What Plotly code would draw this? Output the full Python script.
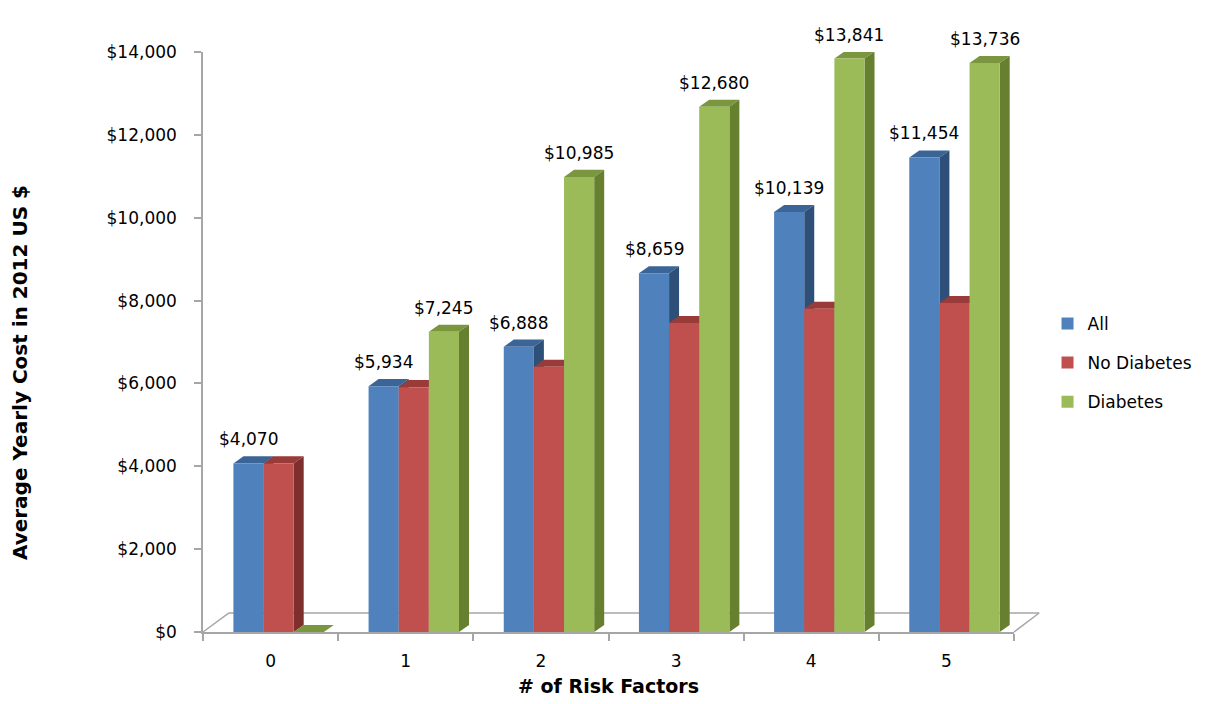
import plotly.graph_objects as go

# ---------------- data ----------------
categories = ["0", "1", "2", "3", "4", "5"]
all_vals = [4070, 5934, 6888, 8659, 10139, 11454]
no_diab_vals = [4070, 5910, 6400, 7460, 7800, 7940]
diab_vals = [0, 7245, 10985, 12680, 13841, 13736]
series_names = ["All", "No Diabetes", "Diabetes"]
y_ticks = [0, 2000, 4000, 6000, 8000, 10000, 12000, 14000]

# ---------------- styling ----------------
front_colors = ["#4F81BD", "#C0504D", "#9BBB59"]
top_colors = ["#3B6497", "#9A3B39", "#7A963F"]
side_colors = ["#2E5078", "#7E2F2D", "#66802F"]
show_labels = [True, False, True]
bar_w = 0.223
offsets = [-0.275, -0.052, 0.171]
dx = 0.074      # depth in x (category units)
dy = 170        # depth in y (data units)
FONT = "DejaVu Sans"

series_vals = [all_vals, no_diab_vals, diab_vals]
xs = list(range(len(categories)))

fig = go.Figure()
shapes = []

# floor (3D base) outline
floor_col = "#A6A6A6"
shapes.append(dict(type="line", xref="x domain", yref="y domain", x0=0.032, y0=0.0328, x1=1.031, y1=0.0328,
                   line=dict(color=floor_col, width=1.5), layer="below"))
shapes.append(dict(type="line", xref="x domain", yref="y domain", x0=0, y0=0, x1=0.032, y1=0.0328,
                   line=dict(color=floor_col, width=1.5), layer="below"))
shapes.append(dict(type="line", xref="x domain", yref="y domain", x0=1.0, y0=0, x1=1.031, y1=0.0328,
                   line=dict(color=floor_col, width=1.5), layer="below"))

annotations = []
for s, (name, vals) in enumerate(zip(series_names, series_vals)):
    o = offsets[s]
    fig.add_trace(go.Bar(
        x=xs, y=vals, name=name, offset=o, width=bar_w,
        marker=dict(color=front_colors[s], line=dict(width=0)),
        legendgroup=name, hoverinfo="x+y",
    ))
    for i, v in zip(xs, vals):
        xl = i + o
        xr = xl + bar_w
        # top face
        shapes.append(dict(
            type="path", xref="x", yref="y", layer="below",
            path=f"M {xl},{v} L {xr},{v} L {xr+dx},{v+dy} L {xl+dx},{v+dy} Z",
            fillcolor=top_colors[s], line=dict(width=0)))
        # side face
        shapes.append(dict(
            type="path", xref="x", yref="y", layer="below",
            path=f"M {xr},0 L {xr},{v} L {xr+dx},{v+dy} L {xr+dx},{dy} Z",
            fillcolor=side_colors[s], line=dict(width=0)))
        if show_labels[s] and v > 0:
            annotations.append(dict(
                x=xl + bar_w / 2, y=v, xref="x", yref="y",
                text=f"${v:,}", showarrow=False, yanchor="bottom", yshift=12,
                font=dict(family=FONT, size=17, color="#000000")))

# y-axis title
annotations.append(dict(
    x=-0.1825, y=0.448, xref="paper", yref="paper", textangle=-90,
    text="<b>Average Yearly Cost in 2012 US $</b>", showarrow=False,
    xanchor="center", yanchor="middle",
    font=dict(family=FONT, size=20, color="#000000")))

fig.update_layout(
    width=1206, height=704,
    margin=dict(l=203, r=0, t=52, b=72),
    paper_bgcolor="white", plot_bgcolor="white",
    barmode="overlay",
    shapes=shapes,
    annotations=annotations,
    font=dict(family=FONT, size=17, color="#000000"),
    showlegend=True,
    legend=dict(x=0.842, xref="paper", y=0.464, yanchor="middle", xanchor="left",
                font=dict(family=FONT, size=17, color="#000000"),
                tracegroupgap=14, bgcolor="rgba(0,0,0,0)"),
)

fig.update_xaxes(
    domain=[0, 0.8086],
    range=[-0.5, 5.5], tickmode="array", tickvals=xs, ticktext=categories,
    ticks="", showgrid=False, zeroline=False,
    showline=True, linecolor="#A6A6A6", linewidth=1.5,
    ticklabelstandoff=13,
    tickfont=dict(family=FONT, size=17, color="#000000"),
    minor=dict(tickmode="array", tickvals=[-0.5, 0.5, 1.5, 2.5, 3.5, 4.5, 5.5],
               ticks="outside", ticklen=7, tickcolor="#A6A6A6", tickwidth=1.5, showgrid=False),
    title=dict(text="<b># of Risk Factors</b>", font=dict(family=FONT, size=19, color="#000000"), standoff=10),
)
fig.update_yaxes(
    range=[0, 14000], tickmode="array", tickvals=y_ticks,
    ticktext=[f"${t:,}" for t in y_ticks],
    ticks="outside", ticklen=7, tickcolor="#A6A6A6", tickwidth=1.5,
    showgrid=False, zeroline=False,
    showline=True, linecolor="#A6A6A6", linewidth=1.5,
    ticklabelstandoff=14,
    tickfont=dict(family=FONT, size=17, color="#000000"),
)

fig.write_html("out.html")
